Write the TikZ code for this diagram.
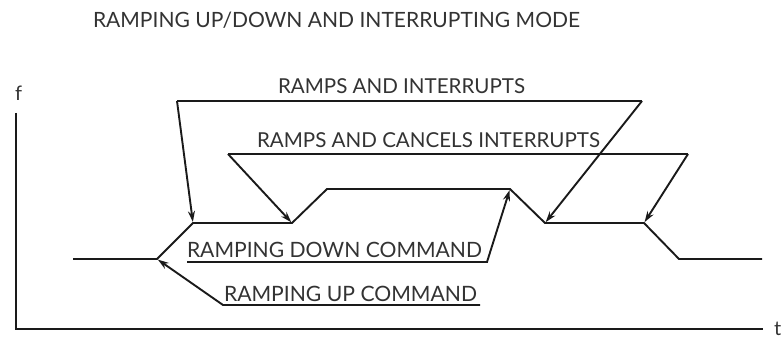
\documentclass[tikz,border=0pt]{standalone}
\usepackage{fontspec}
\setmainfont{Lato}
\usetikzlibrary{arrows.meta}
\definecolor{txt}{HTML}{333333}
\definecolor{ln}{HTML}{1A1A1A}
\newcommand{\fitw}[2]{\resizebox{#1pt}{!}{\fontsize{20}{24}\selectfont #2}}
\begin{document}
\begin{tikzpicture}[x=1pt,y=-1pt,
  lbl/.style={anchor=base west,inner sep=0pt,outer sep=0pt,text=txt},
  wave/.style={draw=ln,line width=1.9pt,line join=miter},
  ptr/.style={draw=ln,line width=1.9pt,-{Stealth[length=11pt,width=7pt]},shorten >=1pt},
  uline/.style={draw=ln,line width=1.9pt}]
\useasboundingbox (0,0) rectangle (783,339);
% title
\node[lbl] (title) at (93,28) {\fitw{487}{RAMPING UP/DOWN AND INTERRUPTING MODE}};
% axes
\coordinate (origin) at (16,329);
\coordinate (ytop) at (16,113);
\coordinate (xend) at (763,329);
\draw[uline] (ytop) -- (origin) -- (xend);
\node[lbl] (flab) at (15,101) {\fontsize{20}{24}\selectfont f};
\node[lbl] (tlab) at (774,335) {\fontsize{20}{24}\selectfont t};
% waveform corners
\coordinate (w0) at (73,259);
\coordinate (w1) at (157,259);
\coordinate (w2) at (193,223);
\coordinate (w3) at (292,223);
\coordinate (w4) at (327,189);
\coordinate (w5) at (510,189);
\coordinate (w6) at (545,223);
\coordinate (w7) at (644,223);
\coordinate (w8) at (679,259);
\coordinate (w9) at (762,259);
\draw[wave] (w0)--(w1)--(w2)--(w3)--(w4)--(w5)--(w6)--(w7)--(w8)--(w9);
% labels
\node[lbl] (ri) at (278,94) {\fitw{247}{RAMPS AND INTERRUPTS}};
\node[lbl] (rc) at (257,147) {\fitw{343}{RAMPS AND CANCELS INTERRUPTS}};
\node[lbl] (rd) at (187,257) {\fitw{295}{RAMPING DOWN COMMAND}};
\node[lbl] (ru) at (224,301) {\fitw{253}{RAMPING UP COMMAND}};
% underline leader ends
\coordinate (riL) at (177,101);
\coordinate (riR) at (642,101);
\coordinate (rcL) at (228,154);
\coordinate (rcR) at (688,154);
\coordinate (rdL) at (187,262);
\coordinate (rdR) at (487,262);
\coordinate (ruL) at (223,305);
\coordinate (ruR) at (480,305);
% connectors
\draw[uline] (riL) -- (riR);
\draw[ptr] (riL) -- (w2);
\draw[ptr] (riR) -- (w6);
\draw[uline] (rcL) -- (rcR);
\draw[ptr] (rcL) -- (w3);
\draw[ptr] (rcR) -- (w7);
\draw[ptr] (rdL) -- (rdR) -- (w5);
\draw[ptr] (ruR) -- (ruL) -- (w1);
\end{tikzpicture}
\end{document}
